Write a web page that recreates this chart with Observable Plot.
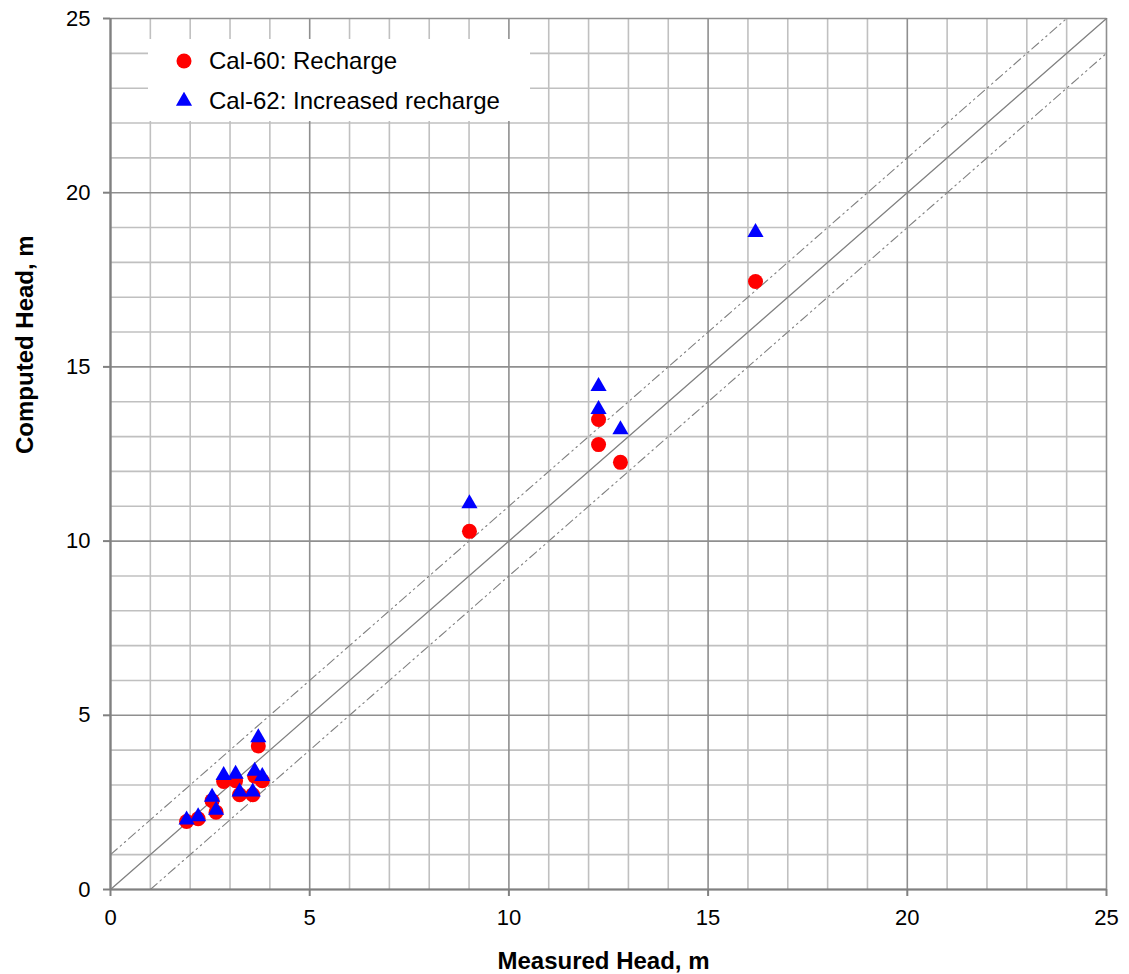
<!DOCTYPE html>
<html>
<head>
<meta charset="utf-8">
<script src="https://cdn.jsdelivr.net/npm/d3@7"></script>
<script src="https://cdn.jsdelivr.net/npm/@observablehq/plot@0.6"></script>
<style>
  html, body { margin: 0; padding: 0; background: #fff; }
  #wrap { position: relative; width: 1129px; height: 974px; font-family: "Liberation Sans", Arial, sans-serif; }
  #legend { position: absolute; left: 148px; top: 39px; width: 382px; height: 82px; background: #fff; }
  #legend .row { position: absolute; left: 0; height: 30px; display: flex; align-items: center; font-size: 24px; color: #000; }
  #legend svg { margin-left: 27px; margin-right: 16px; }
</style>
</head>
<body>
<div id="wrap"></div>
<script>
// Measured head (x) and computed head (y)
const cal60Measured = [16.19, 9.01, 12.25, 12.25, 12.80, 3.71, 2.84, 3.14, 3.62, 3.81, 3.24, 3.57, 2.55, 2.65, 1.91, 2.20];
const cal60Computed = [17.45, 10.28, 13.49, 12.77, 12.26, 4.12, 3.10, 3.12, 3.25, 3.12, 2.72, 2.72, 2.55, 2.22, 1.95, 2.03];
const cal62Measured = [16.19, 9.01, 12.25, 12.25, 12.80, 3.71, 2.84, 3.14, 3.62, 3.81, 3.24, 3.57, 2.55, 2.65, 1.91, 2.20];
const cal62Computed = [18.86, 11.08, 14.44, 13.78, 13.20, 4.36, 3.28, 3.31, 3.40, 3.25, 2.80, 2.80, 2.65, 2.28, 2.00, 2.09];
const seriesNames = ["Cal-60: Recharge", "Cal-62: Increased recharge"];
const majorTicks = [0, 5, 10, 15, 20, 25];
const minorTicks = [1,2,3,4,6,7,8,9,11,12,13,14,16,17,18,19,21,22,23,24];
const oneToOne = [{x: 0, y: 0}, {x: 25, y: 25}];
const plusOne = [{x: 0, y: 1}, {x: 24, y: 25}];
const minusOne = [{x: 1, y: 0}, {x: 25, y: 24}];

const cal60 = cal60Measured.map((x, i) => ({x, y: cal60Computed[i]}));
const cal62 = cal62Measured.map((x, i) => ({x, y: cal62Computed[i]}));

const chart = Plot.plot({
  width: 1129,
  height: 974,
  marginLeft: 110,
  marginRight: 23,
  marginTop: 18,
  marginBottom: 85,
  style: {fontFamily: "'Liberation Sans', Arial, sans-serif", fontSize: "22px", color: "#000", background: "#fff"},
  x: {domain: [0, 25]},
  y: {domain: [0, 25]},
  marks: [
    Plot.ruleX(minorTicks, {stroke: "#c0c0c0", strokeWidth: 1.6}),
    Plot.ruleY(minorTicks, {stroke: "#c0c0c0", strokeWidth: 1.6}),
    Plot.ruleX(majorTicks, {stroke: "#8f8f8f", strokeWidth: 1.6}),
    Plot.ruleY(majorTicks, {stroke: "#8f8f8f", strokeWidth: 1.6}),
    Plot.line(oneToOne, {x: "x", y: "y", stroke: "#808080", strokeWidth: 1.3}),
    Plot.line(plusOne, {x: "x", y: "y", stroke: "#808080", strokeWidth: 1.1, strokeDasharray: "9,4,1.5,4,1.5,4"}),
    Plot.line(minusOne, {x: "x", y: "y", stroke: "#808080", strokeWidth: 1.1, strokeDasharray: "9,4,1.5,4,1.5,4"}),
    Plot.ruleX([0], {stroke: "#808080", strokeWidth: 2.2}),
    Plot.ruleY([0], {stroke: "#808080", strokeWidth: 2.2}),
    Plot.dot(cal60, {x: "x", y: "y", r: 7.5, fill: "#ff0000", symbol: "circle"}),
    Plot.dot(cal62, {x: "x", y: "y", r: 6, fill: "#0000ff", symbol: "triangle"}),
    Plot.axisX({ticks: majorTicks, tickSize: 7, tickPadding: 13, stroke: "#808080", strokeWidth: 2, tickFormat: d => String(d), label: null, fontSize: 22}),
    Plot.axisY({ticks: majorTicks, tickSize: 7, tickPadding: 13, stroke: "#808080", strokeWidth: 2, tickFormat: d => String(d), label: null, fontSize: 22}),
    Plot.text(["Measured Head, m"], {frameAnchor: "bottom", dx: -5, dy: 79, fontWeight: "bold", fontSize: 24, fill: "#000"}),
    Plot.text(["Computed Head, m"], {frameAnchor: "left", dx: -85, rotate: -90, fontWeight: "bold", fontSize: 24, fill: "#000"})
  ]
});

const wrap = document.getElementById("wrap");
wrap.appendChild(chart);

const legend = document.createElement("div");
legend.id = "legend";
const symbols = [
  '<svg width="18" height="18" viewBox="-9 -9 18 18"><circle r="7.5" fill="#ff0000"/></svg>',
  '<svg width="18" height="18" viewBox="-9 -9 18 18"><path d="' + d3.symbol(d3.symbolTriangle, 6 * 6 * Math.PI)() + '" fill="#0000ff"/></svg>'
];
seriesNames.forEach((name, i) => {
  const row = document.createElement("div");
  row.className = "row";
  row.style.top = (7 + i * 40) + "px";
  row.innerHTML = symbols[i] + "<span>" + name + "</span>";
  legend.appendChild(row);
});
wrap.appendChild(legend);
</script>
</body>
</html>
